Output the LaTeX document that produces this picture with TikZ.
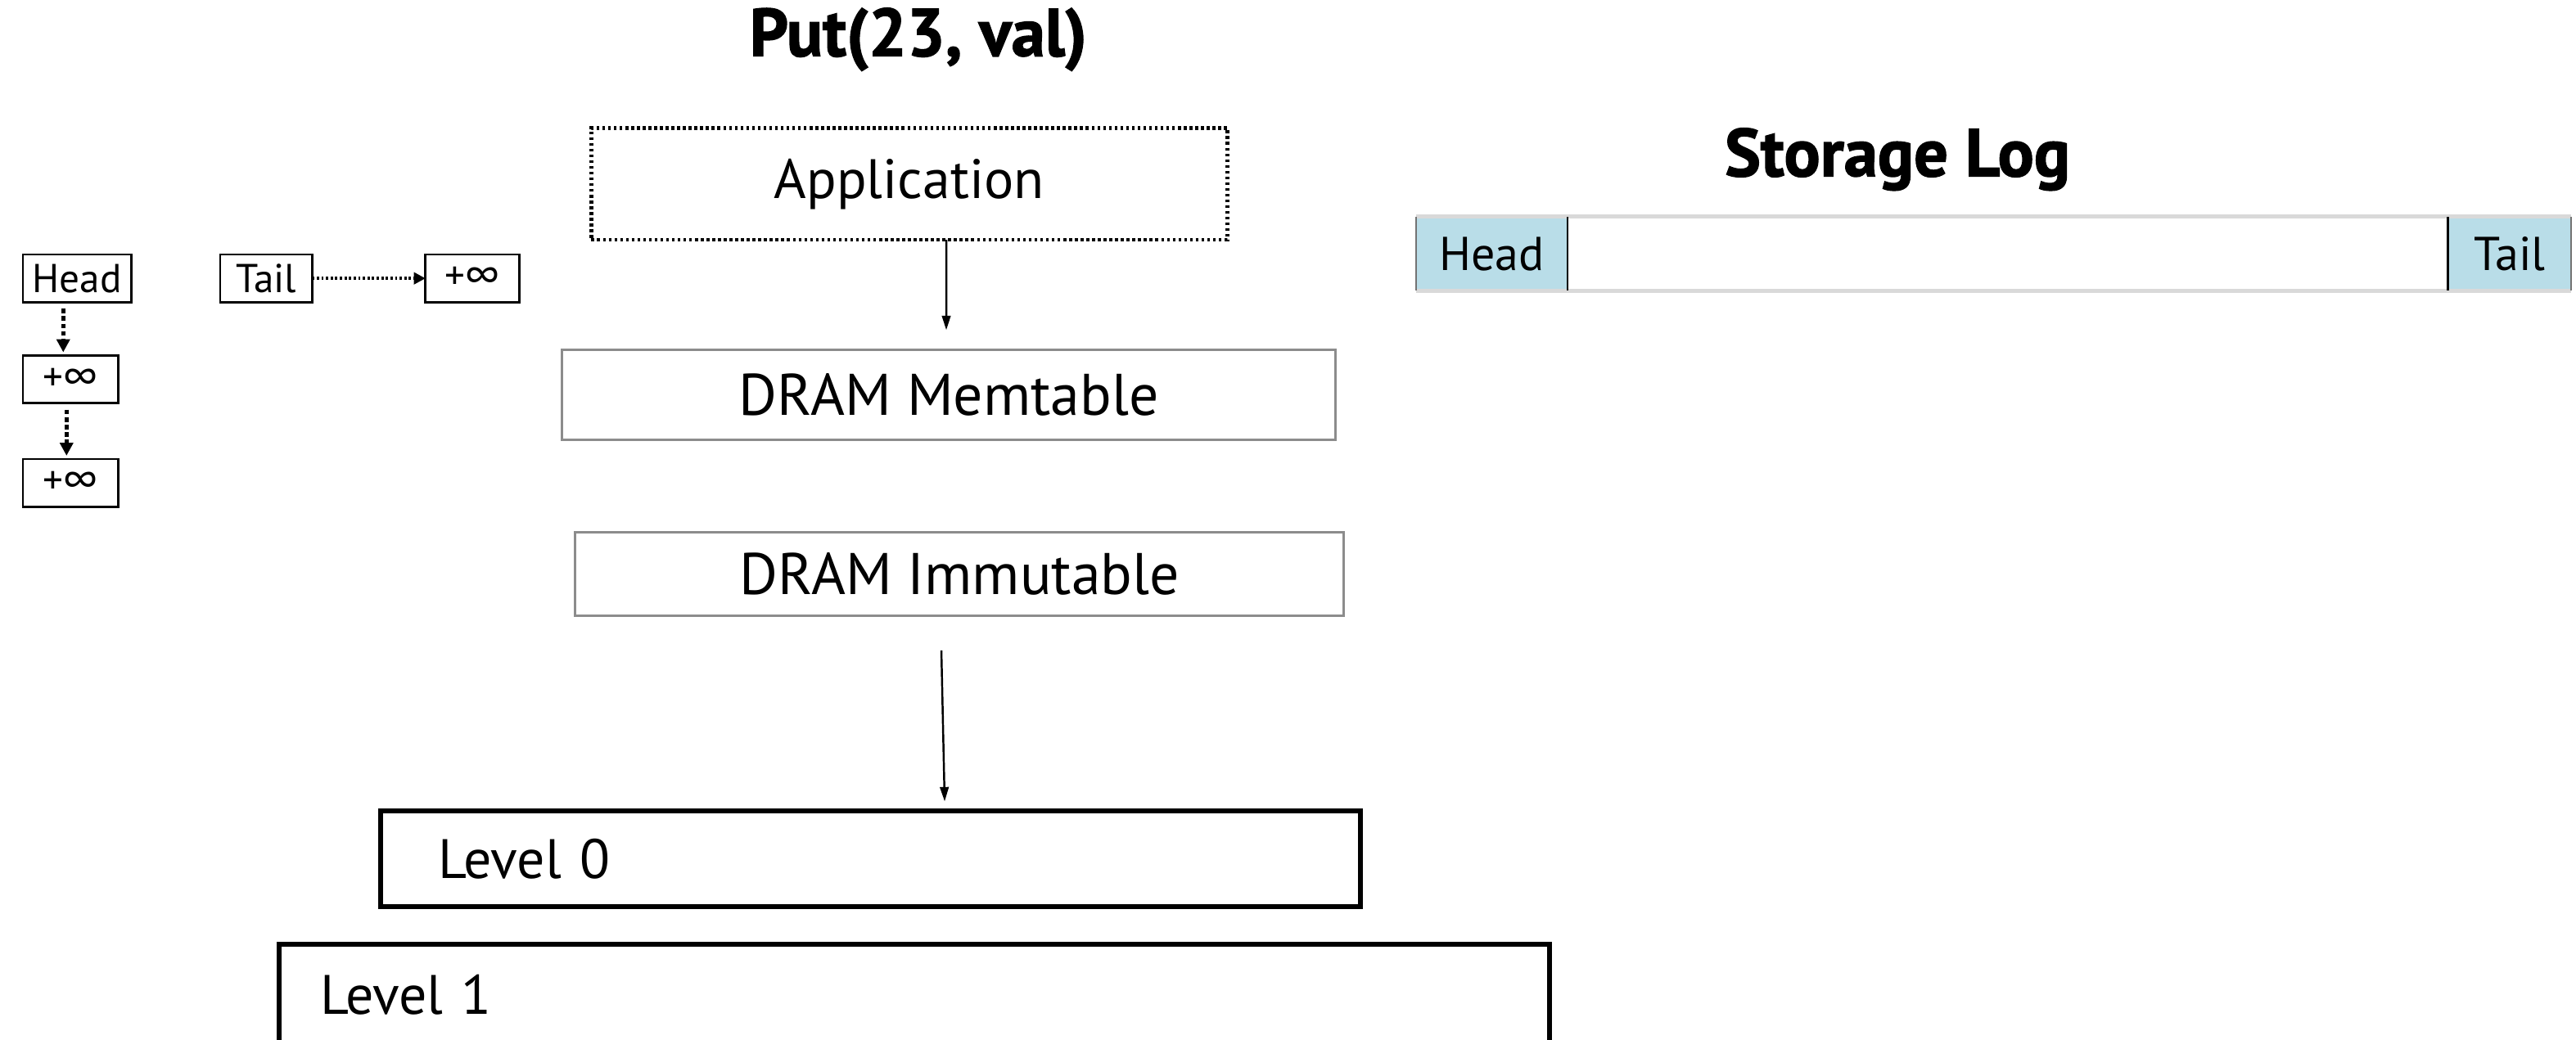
\documentclass[tikz,border=0pt]{standalone}
\usepackage{fontspec}
\setmainfont{PT Sans}
\newfontfamily\heavyfont[FakeBold=1.6]{PT Sans Bold}
\usetikzlibrary{arrows.meta,calc}
\definecolor{logblue}{HTML}{B9DDE8}
\definecolor{logrim}{HTML}{D9D9D9}
\definecolor{boxgray}{HTML}{8C8C8C}
\begin{document}
\begin{tikzpicture}[x=0.02007cm,y=-0.02007cm,
  every node/.style={inner sep=0pt, outer sep=0pt},
  bigtext/.style={font=\fontsize{19.3}{22}\selectfont},
  dramtext/.style={font=\fontsize{20.4}{23}\selectfont},
  smalltext/.style={font=\fontsize{14}{17}\selectfont},
  logtext/.style={font=\fontsize{16.5}{19}\selectfont},
  heading/.style={font=\fontsize{23.5}{27}\heavyfont},
  keybox/.style={draw=black, line width=0.8pt, smalltext, minimum height=0.582cm},
  appbox/.style={draw=black, line width=1.3pt, dash pattern=on 1pt off 1pt, bigtext},
  drambox/.style={draw=boxgray, line width=0.9pt, dramtext},
  levelbox/.style={draw=black, line width=1.7pt, bigtext, align=left},
  logcell/.style={fill=logblue, logtext, minimum height=0.903cm},
  solidarrow/.style={line width=0.7pt, -{Triangle[length=5pt,width=3pt]}},
  dasharrow/.style={line width=1.4pt, dash pattern=on 1.6pt off 1pt, -{Triangle[length=4.5pt,width=4.5pt]}},
  dotarrow/.style={line width=1pt, dash pattern=on 0.8pt off 0.8pt, -{Triangle[length=4pt,width=4pt]}}
]
\useasboundingbox (0,0) rectangle (1568,633);
\clip (0,0) rectangle (1568,633);

% skip-list sentinels
\node[keybox, minimum width=1.325cm] (head) at (47,169.5) {Head};
\node[keybox, minimum width=1.124cm] (tail) at (162,169.5) {Tail};
\node[keybox, minimum width=1.144cm] (tinf) at (287.5,169.5) {+∞};
\node[keybox, minimum width=1.164cm] (hinf1) at (43,231) {+∞};
\node[keybox, minimum width=1.164cm] (hinf2) at (43,294) {+∞};
\draw[dasharrow] ($(head.south)+(-8.5,4)$) -- ($(hinf1.north)+(-4.5,-2)$);
\draw[dasharrow] ($(hinf1.south)+(-2.5,4)$) -- ($(hinf2.north)+(-2.5,-2)$);
\draw[dotarrow] (tail.east) -- (tinf.west);

% write path
\node[heading] (put) at (559,24) {Put(23, val)};
\node[appbox, minimum width=7.767cm, minimum height=1.365cm] (app) at (553.5,112) {Application};
\node[drambox, minimum width=9.453cm, minimum height=1.104cm] (mem) at (577.5,240.5) {DRAM Memtable};
\node[drambox, minimum width=9.393cm, minimum height=1.024cm] (imm) at (584,349.5) {DRAM Immutable};
\node[levelbox, text width=10.562cm, inner xsep=0.70cm, minimum height=1.164cm] (lvl0) at (530,523) {Level 0};
\node[levelbox, text width=14.514cm, inner xsep=0.50cm, minimum height=1.244cm] (lvl1) at (556.5,606) {Level 1};
\draw[solidarrow] ($(app.south)+(22.5,0)$) -- ($(mem.north)+(-1.5,-12)$);
\draw[solidarrow] ($(imm.south)+(-11,21)$) -- ($(lvl0.north)+(45,-6)$);

% storage log
\node[heading] (stitle) at (1155,97) {Storage Log};
\node[logcell, minimum width=1.846cm] (lhead) at (908,154.5) {Head};
\node[logcell, minimum width=1.505cm] (ltail) at (1527.5,154.5) {Tail};
\draw[logrim, line width=1.4pt] (lhead.north west) -- (ltail.north east);
\draw[logrim, line width=1.4pt] (lhead.south west) -- (ltail.south east);
\draw[black!55, line width=0.6pt] (lhead.north west) -- (lhead.south west);
\draw[black!55, line width=0.6pt] (ltail.north east) -- (ltail.south east);
\draw[black, line width=0.6pt] (lhead.north east) -- (lhead.south east);
\draw[black, line width=0.6pt] (ltail.north west) -- (ltail.south west);
\end{tikzpicture}
\end{document}
